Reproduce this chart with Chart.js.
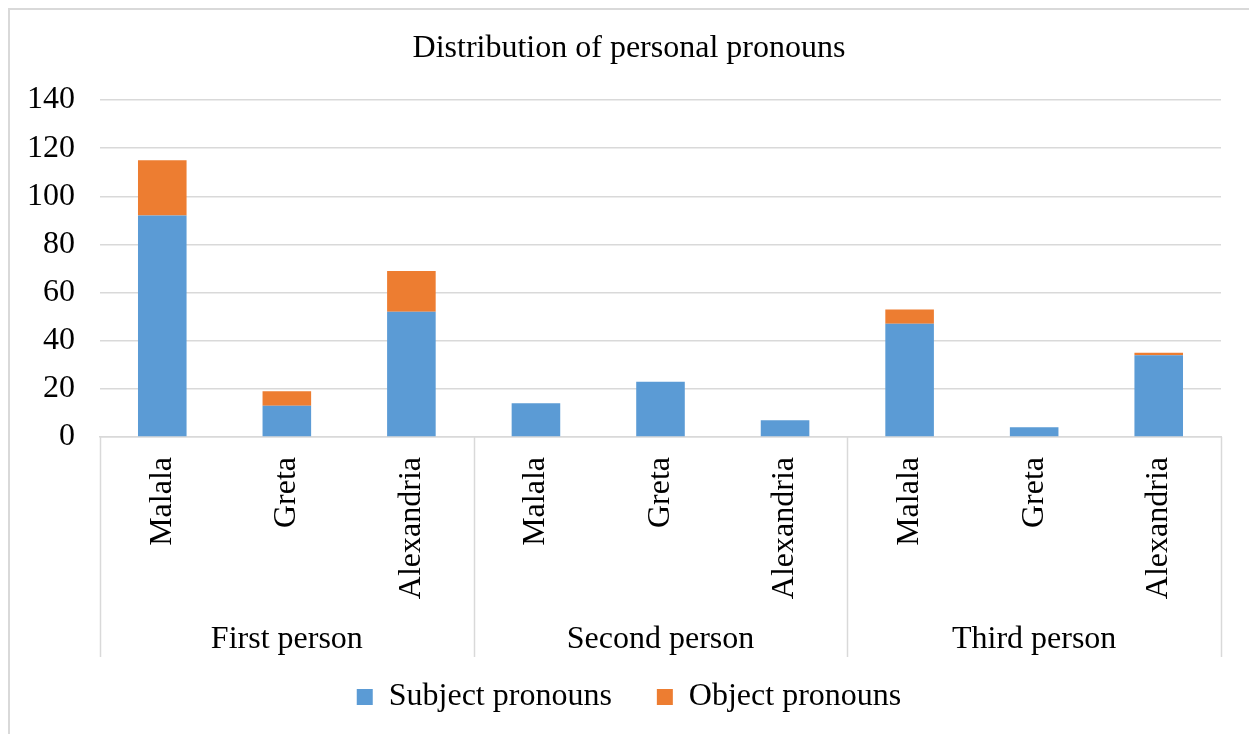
<!DOCTYPE html>
<html>
<head>
<meta charset="utf-8">
<script src="https://cdn.jsdelivr.net/npm/chart.js@4/dist/chart.umd.min.js"></script>
<style>
  html, body { margin: 0; padding: 0; background: #fff; overflow: hidden; }
  #wrap { position: relative; width: 1249px; height: 734px; }
  #frame { position: absolute; left: 8px; top: 8px; width: 1300px; height: 800px;
           border: 2px solid #d9d9d9; box-sizing: border-box; pointer-events: none; }
  canvas { position: absolute; left: 0; top: 0; }
</style>
</head>
<body>
<div id="wrap">
  <div id="frame"></div>
  <canvas id="c" width="1249" height="734"></canvas>
</div>
<script>
// Speakers within each grammatical person
const speakers = ['Malala', 'Greta', 'Alexandria'];
const groups = ['First person', 'Second person', 'Third person'];
const categories = [
  'Malala', 'Greta', 'Alexandria',
  'Malala', 'Greta', 'Alexandria',
  'Malala', 'Greta', 'Alexandria'
];
// Pronoun counts per speaker, grouped First / Second / Third person
const subjectPronouns = [92, 13, 52, 14, 23, 7, 47, 4, 34];
const objectPronouns  = [23, 6, 17, 0, 0, 0, 6, 0, 1];
const yTicks = [0, 20, 40, 60, 80, 100, 120, 140];

const FONT = "'Liberation Serif', 'Times New Roman', serif";
const FS = 32;
const GRID = '#d9d9d9';

// Vertical separators between the person groups, below the axis
const groupDividers = {
  id: 'groupDividers',
  afterDraw(chart) {
    const { ctx, chartArea } = chart;
    const n = categories.length;
    const per = speakers.length;
    const step = (chartArea.right - chartArea.left) / n;
    ctx.save();
    ctx.strokeStyle = GRID;
    ctx.lineWidth = 1.5;
    for (let k = 0; k <= n; k += per) {
      const px = Math.round(chartArea.left + k * step) + 0.5;
      ctx.beginPath();
      ctx.moveTo(px, chartArea.bottom);
      ctx.lineTo(px, chartArea.bottom + 220);
      ctx.stroke();
    }
    ctx.restore();
  }
};

new Chart(document.getElementById('c'), {
  type: 'bar',
  data: {
    labels: categories,
    datasets: [
      { label: 'Subject pronouns', data: subjectPronouns, backgroundColor: '#5b9bd5',
        borderWidth: 0, barPercentage: 0.39, categoryPercentage: 1.0 },
      { label: 'Object pronouns', data: objectPronouns, backgroundColor: '#ed7d31',
        borderWidth: 0, barPercentage: 0.39, categoryPercentage: 1.0 }
    ]
  },
  options: {
    responsive: false,
    animation: false,
    layout: { padding: { top: 10, left: 9, right: 0, bottom: 11 } },
    plugins: {
      title: {
        display: true,
        text: 'Distribution of personal pronouns',
        color: '#000',
        font: { family: FONT, size: FS, weight: 'normal' },
        padding: { top: 19, bottom: 32.6 }
      },
      legend: {
        position: 'bottom',
        labels: {
          color: '#000',
          font: { family: FONT, size: FS },
          boxWidth: 16, boxHeight: 16,
          padding: 45
        }
      },
      tooltip: { enabled: false }
    },
    scales: {
      x: {
        stacked: true,
        grid: { display: false },
        border: { display: true, color: GRID, width: 1.5 },
        ticks: {
          color: '#000', font: { family: FONT, size: FS },
          minRotation: 90, maxRotation: 90, autoSkip: false, padding: 12
        },
        afterFit(scale) { scale.height = 168; }
      },
      // group names under the speaker names; mirrored so they may extend past the box
      x2: {
        type: 'category',
        labels: groups,
        position: 'bottom',
        offset: true,
        grid: { display: false },
        border: { display: false },
        ticks: { color: '#000', font: { family: FONT, size: FS }, mirror: true, padding: -54 },
        afterFit(scale) { scale.height = 31; }
      },
      y: {
        stacked: true,
        min: yTicks[0],
        max: yTicks[yTicks.length - 1],
        afterBuildTicks(scale) { scale.ticks = yTicks.map(v => ({ value: v })); },
        grid: { color: GRID, lineWidth: 1.5, drawTicks: false },
        border: { display: false },
        ticks: { color: '#000', font: { family: FONT, size: FS }, padding: 25 },
        afterFit(scale) { scale.width = 91; }
      },
      // empty margin on the right of the plot
      yRight: {
        type: 'linear',
        position: 'right',
        grid: { display: false },
        border: { display: false },
        ticks: { display: false },
        afterFit(scale) { scale.width = 28; }
      }
    }
  },
  plugins: [groupDividers]
});
</script>
</body>
</html>
